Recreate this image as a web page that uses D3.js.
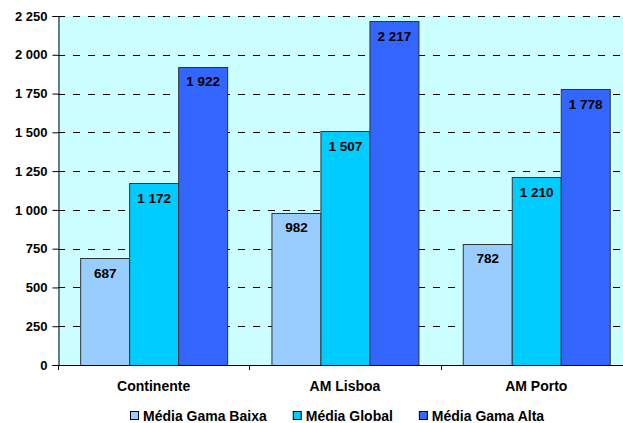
<!DOCTYPE html>
<html>
<head>
<meta charset="utf-8">
<script src="https://cdn.jsdelivr.net/npm/d3@7"></script>
<style>
    body { margin: 0; background: #fff; }
    svg { display: block; font-family: "Liberation Sans", Arial, sans-serif; font-weight: bold; }
</style>
</head>
<body>
<div id="chart"></div>
<script>
    // Chart data
    var categories = ['Continente', 'AM Lisboa', 'AM Porto'];
    var seriesNames = ['Média Gama Baixa', 'Média Global', 'Média Gama Alta'];
    var gamaBaixa = [687, 982, 782];
    var global = [1172, 1507, 1210];
    var gamaAlta = [1922, 2217, 1778];
    var yTicks = [0, 250, 500, 750, 1000, 1250, 1500, 1750, 2000, 2250];

    var seriesValues = [gamaBaixa, global, gamaAlta];
    var colors = ['#99CCFF', '#00CCFF', '#3366FF'];

    var width = 623, height = 423;
    var plot = { left: 58, top: 16, bottom: 365, catWidth: 191.3 };

    var fmt = d3.formatLocale({ decimal: ',', thousands: ' ', grouping: [3], currency: ['', ''] }).format(',d');

    var svg = d3.select('#chart')
        .append('svg')
        .attr('width', width)
        .attr('height', height);

    // Scales
    var x0 = d3.scaleBand()
        .domain(categories)
        .range([plot.left, plot.left + plot.catWidth * categories.length])
        .padding(0);

    var x1 = d3.scaleBand()
        .domain(d3.range(seriesNames.length))
        .range([0, x0.bandwidth()])
        .paddingInner(0)
        .paddingOuter(0.452);

    var y = d3.scaleLinear()
        .domain([0, 2250])
        .range([plot.bottom, plot.top]);

    // Plot background
    svg.append('rect')
        .attr('x', plot.left)
        .attr('y', plot.top)
        .attr('width', x0.range()[1] - plot.left)
        .attr('height', plot.bottom - plot.top)
        .attr('fill', '#CCFFFF');

    // Dashed gridlines
    svg.selectAll('.grid')
        .data(yTicks.filter(function (d) { return d > 0; }))
        .enter()
        .append('line')
        .attr('class', 'grid')
        .attr('x1', plot.left)
        .attr('x2', x0.range()[1])
        .attr('y1', function (d) { return Math.round(y(d)) + 0.5; })
        .attr('y2', function (d) { return Math.round(y(d)) + 0.5; })
        .attr('stroke', '#000')
        .attr('stroke-width', 1)
        .attr('stroke-dasharray', '7,8');

    // Bars
    var rows = [];
    categories.forEach(function (c, ci) {
        seriesValues.forEach(function (vals, si) {
            rows.push({ cat: c, s: si, value: vals[ci] });
        });
    });

    var groups = svg.selectAll('.bar')
        .data(rows)
        .enter()
        .append('g')
        .attr('class', 'bar');

    groups.append('rect')
        .attr('x', function (d) { return x0(d.cat) + x1(d.s) + 0.5; })
        .attr('y', function (d) { return Math.round(y(d.value)) + 0.5; })
        .attr('width', x1.bandwidth())
        .attr('height', function (d) { return plot.bottom - Math.round(y(d.value)); })
        .attr('fill', function (d) { return colors[d.s]; })
        .attr('stroke', '#333')
        .attr('stroke-width', 1);

    groups.append('text')
        .attr('x', function (d) { return x0(d.cat) + x1(d.s) + x1.bandwidth() / 2 + 0.5; })
        .attr('y', function (d) { return y(d.value) + 19.5; })
        .attr('text-anchor', 'middle')
        .attr('font-size', '13.5px')
        .attr('fill', '#000')
        .text(function (d) { return fmt(d.value); });

    // Y axis
    var yAxis = svg.append('g')
        .attr('transform', 'translate(' + (plot.left + 0.5) + ',0)')
        .call(d3.axisLeft(y).tickValues(yTicks).tickFormat(fmt).tickSizeOuter(0).tickSize(6).tickPadding(5));
    yAxis.select('.domain').attr('stroke', '#000');
    yAxis.selectAll('line').attr('stroke', '#000');
    yAxis.selectAll('text')
        .attr('font-size', '13px')
        .attr('font-family', '"Liberation Sans", Arial, sans-serif')
        .attr('font-weight', 'bold')
        .attr('fill', '#000');

    // X axis line with category boundary ticks
    svg.append('line')
        .attr('x1', plot.left)
        .attr('x2', x0.range()[1])
        .attr('y1', plot.bottom + 0.5)
        .attr('y2', plot.bottom + 0.5)
        .attr('stroke', '#000');

    svg.selectAll('.cat-tick')
        .data(categories)
        .enter()
        .append('line')
        .attr('class', 'cat-tick')
        .attr('x1', function (d) { return Math.round(x0(d)) + 0.5; })
        .attr('x2', function (d) { return Math.round(x0(d)) + 0.5; })
        .attr('y1', plot.bottom)
        .attr('y2', plot.bottom + 5)
        .attr('stroke', '#000');

    svg.selectAll('.cat-label')
        .data(categories)
        .enter()
        .append('text')
        .attr('class', 'cat-label')
        .attr('x', function (d) { return x0(d) + x1(1) + x1.bandwidth() / 2; })
        .attr('y', 391)
        .attr('text-anchor', 'middle')
        .attr('font-size', '14px')
        .attr('fill', '#000')
        .text(function (d) { return d; });

    // Legend
    var legend = svg.append('g').attr('class', 'legend');
    var lx = 130;
    seriesNames.forEach(function (name, i) {
        var item = legend.append('g').attr('transform', 'translate(' + lx + ',0)');
        item.append('rect')
            .attr('x', 0.5)
            .attr('y', 411.5)
            .attr('width', 8)
            .attr('height', 8)
            .attr('fill', colors[i])
            .attr('stroke', '#000');
        var t = item.append('text')
            .attr('x', 13)
            .attr('y', 421)
            .attr('font-size', '14px')
            .attr('fill', '#000')
            .text(name);
        lx += 13 + t.node().getComputedTextLength() + 26;
    });
</script>
</body>
</html>
